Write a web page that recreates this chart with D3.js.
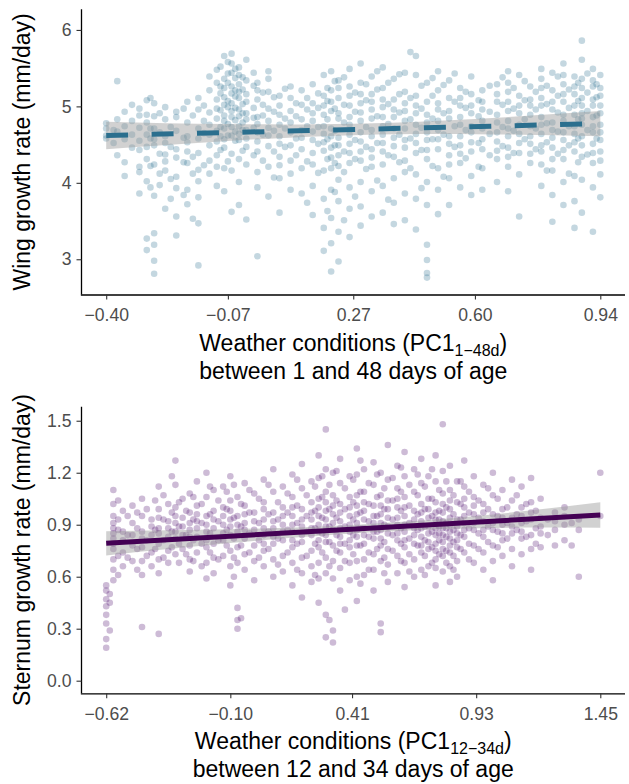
<!DOCTYPE html>
<html><head><meta charset="utf-8">
<script src="https://cdn.jsdelivr.net/npm/d3@7"></script>
<style>
body{margin:0;background:#fff}
svg{display:block}
text{font-family:"Liberation Sans",Arial,Helvetica,sans-serif}
</style>
</head><body>
<svg id="chart" width="629" height="784"></svg>
<script>
// ---------- Wing panel (top) ----------
const wingX = [-0.40,-0.38,-0.37,-0.35,-0.33,-0.31,-0.29,-0.28,-0.27,-0.255,-0.24,-0.225,-0.21,-0.19,-0.18,-0.165,-0.15,-0.135,-0.12,-0.10,-0.09,-0.08,-0.07,-0.06,-0.05,-0.04,-0.03,-0.02,0.00,0.01,0.025,0.04,0.055,0.07,0.085,0.10,0.115,0.13,0.145,0.16,0.175,0.19,0.20,0.21,0.22,0.23,0.245,0.26,0.275,0.29,0.305,0.32,0.335,0.35,0.365,0.38,0.395,0.41,0.425,0.44,0.455,0.47,0.485,0.50,0.515,0.53,0.545,0.56,0.575,0.59,0.61,0.62,0.64,0.66,0.675,0.69,0.705,0.72,0.735,0.75,0.765,0.78,0.795,0.81,0.825,0.84,0.855,0.87,0.88,0.89,0.905,0.92,0.93,0.94];
const wingY = [
 [4.62,4.78,4.58,4.71],
 [4.69,4.52],
 [5.33,4.36,4.83,4.67],
 [4.57,4.93,4.27,4.74,4.09],
 [4.46,4.81,4.63,5.02],
 [4.14,4.88,4.43,4.97,4.21,4.72,3.86,4.55],
 [5.08,4.89,4.31,3.27,3.12,4.63,4.79,4.02,4.47],
 [4.58,4.22,3.94,4.71,5.11],
 [3.83,3.34,4.49,4.87,5.04,2.81,2.98,4.24,4.71,3.19,4.57],
 [4.38,4.66,3.97,4.91,4.12],
 [4.16,4.52,4.83,4.99,3.66,4.37,4.61,4.28],
 [4.73,4.05,4.47,3.79],
 [3.56,3.31,4.33,4.93,4.68,4.44,4.08,4.86,3.93],
 [4.27,4.59,3.84,4.97],
 [4.61,5.06,4.79,4.26,3.91,4.53,3.72,4.41],
 [4.88,4.34,4.12,3.53],
 [4.96,4.71,4.39,4.17,5.11,3.47,4.02,3.81,2.92,4.58],
 [4.65,5.01,4.23,4.81],
 [5.21,5.39,4.92,4.63,4.29,4.76,4.12,4.49],
 [5.09,5.31,4.84,4.54,4.68,3.96,4.36,5.48,4.97,4.21],
 [5.52,5.17,4.73,4.43,4.95,5.26,4.61],
 [5.66,5.36,5.12,4.88,4.71,4.46,4.19,5.02,5.24,4.81,3.89,4.57],
 [5.43,5.58,4.99,4.62,5.31,4.77,4.28,5.07],
 [5.69,5.44,5.26,5.04,4.86,4.62,4.38,4.16,5.56,4.94,5.17,3.62,4.73],
 [5.13,5.37,4.82,4.55,5.49,4.98,4.67,5.21],
 [5.51,5.29,5.11,4.96,4.74,4.56,4.31,4.01,5.19,5.41,4.64,3.71,4.87],
 [5.22,4.91,5.38,4.69,4.42,5.03,4.79],
 [5.61,5.34,5.16,4.91,4.69,4.47,4.24,5.06,3.52,4.83,4.58],
 [5.27,4.98,4.72,5.44,4.36,4.85],
 [5.31,5.09,4.86,4.66,4.41,4.14,3.94,5.21,4.54,3.04,4.77],
 [5.02,4.63,5.18,4.29,4.88],
 [5.46,5.19,4.97,4.72,4.48,4.21,5.36,4.81,3.82,4.62],
 [4.93,4.41,5.12,4.68,4.07],
 [5.14,4.89,4.61,4.34,4.06,5.01,4.76,3.61,4.51,4.23],
 [4.84,5.23,4.47,4.71],
 [5.26,4.94,4.66,4.29,3.91,4.79,4.49,5.11,4.12],
 [4.58,5.04,4.36,4.87],
 [5.02,4.69,4.44,4.19,3.86,4.59,5.21,4.83],
 [4.74,5.11,4.28,3.74,4.96],
 [5.29,5.04,4.81,4.56,4.24,3.96,3.58,4.91,4.39,4.67],
 [4.98,4.51,5.17,4.73,4.13],
 [5.41,5.14,4.89,4.64,4.42,4.16,3.79,3.41,5.01,4.74,3.11,4.53],
 [5.07,4.57,4.83,4.31,3.63,5.24],
 [5.46,5.21,4.94,4.71,4.46,4.19,3.91,3.54,3.21,2.84,4.61,5.06,4.33],
 [4.97,4.68,4.26,3.88,5.33,4.49],
 [5.34,5.11,4.84,4.59,4.36,4.04,3.76,3.36,2.97,4.91,4.49,4.22,5.24],
 [4.79,5.02,4.41,4.14,3.51,5.38],
 [5.49,5.26,5.01,4.76,4.51,4.26,3.94,3.66,3.29,4.86,5.14,4.39,4.63],
 [4.93,4.56,5.18,4.31,3.82],
 [5.56,5.31,5.04,4.81,4.54,4.29,4.01,3.69,4.92,4.66,5.16,3.44,4.41],
 [5.08,4.73,4.47,4.18,5.29],
 [5.39,5.16,4.96,4.69,4.44,4.21,3.89,3.56,5.06,4.61,4.84,4.33],
 [4.87,5.22,4.52,4.03,5.46],
 [5.51,5.24,4.99,4.74,4.52,4.24,3.96,3.61,5.09,4.86,4.41,4.63],
 [5.03,4.77,4.36,5.31,3.78],
 [5.36,5.09,4.86,4.59,4.34,4.06,3.74,4.96,4.71,3.46,4.48],
 [4.92,5.16,4.63,4.27,5.42],
 [5.44,5.19,4.94,4.71,4.46,4.14,3.86,3.51,5.04,4.81,4.56,4.29],
 [5.71,5.11,4.83,4.58,4.19],
 [5.66,5.41,5.14,4.91,4.64,4.39,4.11,3.79,3.39,5.01,4.76,4.52],
 [4.97,4.72,5.27,4.43,3.93],
 [5.31,5.06,4.79,4.56,4.31,4.01,3.71,3.19,2.82,2.99,2.76,4.89,4.66,4.43],
 [5.14,4.84,4.57,4.22,5.37],
 [5.46,5.21,4.96,4.69,4.44,4.19,3.91,3.59,5.04,4.81,4.57],
 [4.91,5.28,4.63,4.08],
 [5.34,5.11,4.84,4.61,4.36,4.06,3.71,4.94,4.51,4.24],
 [5.06,4.74,4.47,5.43],
 [5.24,5.01,4.76,4.49,4.26,3.94,4.86,4.61,5.11,4.38],
 [4.98,4.69,5.19,4.32],
 [5.39,5.16,4.91,4.66,4.41,4.09,3.84,5.01,4.74,4.53],
 [4.87,5.08,4.52,4.21],
 [5.21,4.96,4.71,4.44,4.19,3.91,4.81,5.06,4.57],
 [4.93,4.64,5.27,4.36],
 [5.29,5.06,4.79,4.54,4.31,4.01,4.89,5.16,4.66,4.42],
 [5.02,4.73,5.38,4.48],
 [5.46,5.19,4.94,4.71,4.46,4.21,3.89,5.06,4.81,5.31,4.61,4.34],
 [4.97,4.68,5.24,4.39],
 [5.41,5.14,4.91,4.64,4.39,4.11,3.56,5.01,4.76,4.52],
 [5.08,4.83,4.57,5.33],
 [5.26,5.01,4.74,4.51,4.26,4.89,5.09,4.61,4.38],
 [4.96,4.71,5.19,4.44],
 [5.49,5.24,5.01,4.76,4.49,4.24,3.96,5.11,4.86,5.36,4.64,4.41],
 [5.03,4.78,4.53,5.27,4.16],
 [5.44,5.21,4.96,4.69,4.46,4.16,3.84,3.49,5.06,4.79,4.59,4.31],
 [4.92,5.14,4.67,4.38,5.39],
 [5.56,5.29,5.06,4.81,4.56,4.31,4.01,3.71,5.16,4.89,4.66,5.41,4.43],
 [4.98,4.74,5.22,4.49,4.12],
 [5.39,5.16,4.89,4.64,4.41,4.09,3.76,3.41,5.01,4.74,5.26,4.53],
 [5.07,4.83,4.58,5.31,4.27],
 [5.86,5.61,5.36,5.11,4.84,4.61,4.34,4.04,3.61,5.01,4.76,5.24,4.49,4.91],
 [5.18,4.94,4.69,5.43,4.37],
 [5.49,5.26,5.01,4.74,4.51,4.26,3.94,3.36,5.09,4.86,4.66,5.34,4.39],
 [5.12,4.88,4.58,5.29],
 [5.41,5.14,4.91,4.66,4.41,4.11,3.81,5.01,4.76,4.56,5.24,4.29]
];
const wingTicksX = [-0.40,-0.07,0.27,0.60,0.94];
const wingTicksY = [3,4,5,6];
const wingDomainY = [2.539,6.27];
const wingFitX = [-0.40,0.94];
const wingFitY = [4.62,4.775];
const wingBandX = [-0.40,-0.07,0.27,0.60,0.94];
const wingBandHalf = [0.18,0.11,0.075,0.10,0.165];

// ---------- Sternum panel (bottom) ----------
const sternX = [-0.62,-0.59,-0.55,-0.51,-0.47,-0.43,-0.40,-0.36,-0.33,-0.30,-0.27,-0.24,-0.20,-0.17,-0.13,-0.10,-0.07,-0.04,0.00,0.04,0.08,0.12,0.16,0.20,0.24,0.27,0.30,0.33,0.36,0.40,0.43,0.46,0.50,0.53,0.56,0.60,0.63,0.67,0.70,0.73,0.76,0.79,0.82,0.85,0.88,0.92,0.96,1.00,1.04,1.08,1.12,1.16,1.20,1.26,1.30,1.36,1.45,
 -0.605,-0.57,-0.53,-0.49,-0.45,-0.415,-0.38,-0.345,-0.315,-0.285,-0.255,-0.22,-0.185,-0.15,-0.115,-0.085,-0.055,-0.02,0.02,0.06,0.10,0.14,0.18,0.22,0.255,0.285,0.315,0.345,0.38,0.415,0.445,0.48,0.515,0.545,0.58,0.615,0.65,0.685,0.715,0.745,0.775,0.805,0.835,0.865,0.90,0.94,0.98,1.02,1.06,1.10,1.14,1.18,1.23,1.33];
const sternY = [
 [0.52,0.47,0.43,0.38,0.33,0.24,0.19,0.55],
 [1.10,1.02,0.95,0.88,0.82,0.76,0.70,0.64,0.58,0.91,0.79,0.85],
 [0.98,0.86,0.74,0.66,0.81],
 [0.91,0.78,0.69,0.84,1.01],
 [1.05,0.95,0.86,0.77,0.69,0.61,0.31,0.82],
 [0.93,0.84,0.74,0.66,0.89],
 [1.12,0.99,0.88,0.79,0.70,0.62,0.27,0.85,0.94],
 [1.02,0.92,0.83,0.75,0.68,0.88],
 [1.27,1.13,1.00,0.91,0.82,0.73,0.86,0.95],
 [1.05,0.94,0.84,0.76,0.89],
 [1.08,0.97,0.87,0.78,0.70,0.63,0.91,0.83],
 [1.15,1.01,0.92,0.83,0.74,0.88,0.96],
 [1.20,1.06,0.95,0.86,0.77,0.68,0.59,0.90,0.81],
 [1.10,0.98,0.88,0.79,0.71,0.62,0.93],
 [1.12,1.00,0.90,0.81,0.72,0.85,0.95],
 [1.18,1.04,0.93,0.84,0.75,0.66,0.55,0.89,0.98],
 [1.06,0.95,0.86,0.77,0.68,0.42,0.35,0.30,0.90],
 [1.14,1.01,0.91,0.82,0.73,0.64,0.87,0.96],
 [1.08,0.97,0.87,0.78,0.69,0.58,0.92],
 [1.16,1.03,0.93,0.84,0.75,0.66,0.88,0.99,0.79],
 [1.22,1.09,0.97,0.88,0.79,0.70,0.60,0.92,0.83],
 [1.12,1.00,0.90,0.81,0.72,0.63,0.86,0.95],
 [1.19,1.06,0.95,0.86,0.77,0.68,0.55,0.90,0.81,1.00],
 [1.25,1.11,0.99,0.89,0.80,0.71,0.62,0.48,0.93,0.84],
 [1.15,1.03,0.93,0.84,0.75,0.66,0.57,0.88,0.97],
 [1.30,1.17,1.05,0.95,0.86,0.77,0.68,0.59,0.45,0.90,1.00,0.81],
 [1.45,1.22,1.09,0.98,0.89,0.80,0.71,0.62,0.38,0.25,0.93,0.84,1.03],
 [1.20,1.07,0.96,0.87,0.78,0.69,0.59,0.29,0.22,0.91,1.01],
 [1.28,1.14,1.02,0.92,0.83,0.74,0.65,0.52,0.88,0.97,0.79],
 [1.18,1.06,0.95,0.86,0.77,0.68,0.58,0.90,0.81,1.00],
 [1.34,1.19,1.07,0.96,0.87,0.78,0.69,0.60,0.46,0.91,1.01,0.83],
 [1.22,1.09,0.98,0.88,0.79,0.70,0.61,0.93,0.84,1.03],
 [1.26,1.13,1.01,0.91,0.82,0.73,0.64,0.52,0.95,0.86],
 [1.20,1.07,0.96,0.87,0.78,0.69,0.33,0.28,0.91,1.01,0.82],
 [1.36,1.16,1.04,0.94,0.85,0.76,0.67,0.57,0.89,0.99],
 [1.24,1.11,1.00,0.90,0.81,0.72,0.62,0.94,0.85,1.05],
 [1.32,1.18,1.06,0.95,0.86,0.77,0.68,0.54,0.90,1.00,0.81],
 [1.22,1.09,0.98,0.88,0.79,0.70,0.60,0.93,0.84],
 [1.28,1.14,1.02,0.92,0.83,0.74,0.64,0.97,0.88,0.78],
 [1.18,1.05,0.94,0.85,0.76,0.66,0.89,0.99,0.80],
 [1.30,1.15,1.03,0.93,0.84,0.75,0.65,0.55,0.88,0.97,0.79,0.70],
 [1.48,1.21,1.08,0.97,0.88,0.80,0.72,0.63,0.92,0.84,1.02,0.76],
 [1.24,1.10,0.99,0.90,0.82,0.74,0.66,0.57,0.94,0.86,0.78,1.04],
 [1.15,1.03,0.93,0.85,0.77,0.69,0.60,0.89,0.81],
 [1.27,1.12,1.00,0.91,0.83,0.74,0.95,0.87,1.05],
 [1.18,1.06,0.96,0.87,0.78,0.68,0.91,1.01],
 [1.13,1.02,0.92,0.83,0.74,0.64,0.87,0.97],
 [1.20,1.07,0.96,0.87,0.78,0.69,0.58,0.91],
 [1.10,0.99,0.90,0.81,0.72,0.94,0.85],
 [1.16,1.04,0.94,0.85,0.76,0.66,0.89],
 [1.12,1.00,0.91,0.82,0.73,0.95,0.86],
 [1.17,1.03,0.93,0.84,0.76,0.64,0.97],
 [1.05,0.94,0.85,0.77,0.89],
 [0.97,0.87,0.78,0.92],
 [1.00,0.90,0.81,0.95],
 [0.93,0.87,0.60],
 [1.20,0.95],
 [0.45,0.29,0.50],
 [0.93,0.72,0.87,0.61,1.04],
 [0.84,0.95,0.71],
 [0.76,0.88,0.97,0.64],
 [0.81,0.99,0.72],
 [0.87,0.76,1.04],
 [0.93,0.81,0.71,1.07],
 [0.97,0.86,0.77,1.18],
 [0.89,1.03,0.79,0.68],
 [0.98,0.84,0.73],
 [0.93,1.06,0.81,0.69],
 [1.02,0.91,0.79,0.66],
 [0.96,0.85,1.12,0.74],
 [1.04,0.92,0.81,0.70],
 [0.99,0.87,0.78,1.09],
 [0.94,0.82,0.71,1.13,0.60],
 [1.02,0.89,0.78,0.36],
 [0.97,0.85,0.74,1.10],
 [1.05,0.91,0.81,0.71],
 [0.96,0.86,0.76,1.13],
 [1.03,0.93,0.82,0.67],
 [1.08,0.97,0.87,0.74],
 [1.01,0.91,0.79,1.16,0.64],
 [1.07,0.95,0.86,0.72],
 [1.12,0.98,0.88,0.79,0.61],
 [1.06,0.94,0.85,0.74,1.18],
 [1.13,0.99,0.89,0.80,0.66,0.35],
 [1.04,0.94,0.84,0.75,1.21],
 [1.11,0.99,0.89,0.79,0.69,0.41],
 [1.16,1.03,0.93,0.84,0.73],
 [1.09,0.97,0.88,0.78,1.27,0.56],
 [1.14,1.02,0.92,0.83,0.74,0.64],
 [1.06,0.95,0.86,0.76,1.19],
 [1.11,0.99,0.90,0.80,0.71,0.62],
 [1.17,1.04,0.93,0.84,0.75],
 [1.09,0.98,0.88,0.79,0.69,1.23],
 [1.13,1.01,0.91,0.82,0.73,0.63],
 [1.07,0.96,0.87,0.78,1.19],
 [1.12,0.99,0.89,0.81,0.72,0.61],
 [1.05,0.95,0.86,0.77,0.68,1.22],
 [1.10,0.98,0.89,0.81,0.73,0.85,0.93],
 [1.15,1.00,0.91,0.83,0.75,0.88,0.68],
 [1.07,0.96,0.87,0.80,0.72,0.64],
 [1.02,0.93,0.84,0.76,1.15],
 [1.09,0.97,0.88,0.79,0.70],
 [1.04,0.94,0.85,0.76],
 [1.11,0.99,0.89,0.80],
 [1.05,0.95,0.86,0.77],
 [1.00,0.91,0.82],
 [1.07,0.96,0.87],
 [1.02,0.92,0.83],
 [0.98,0.88,0.79],
 [0.93,0.84],
 [0.91,0.78]
];
const sternTicksX = [-0.62,-0.10,0.41,0.93,1.45];
const sternTicksY = [0.0,0.3,0.6,0.9,1.2,1.5];
const sternDomainY = [-0.0727,1.581];
const sternFitX = [-0.62,1.45];
const sternFitY = [0.793,0.956];
const sternBandX = [-0.62,-0.10,0.41,0.93,1.45];
const sternBandHalf = [0.07,0.04,0.025,0.035,0.074];

const svg = d3.select("#chart");

function panel(o){
  const g = svg.append("g");
  const lo = o.ticksX[0], hi = o.ticksX[o.ticksX.length-1], pad = (hi-lo)*0.05;
  const x = d3.scaleLinear().domain([lo-pad, hi+pad]).range([81.5, 625]);
  const y = d3.scaleLinear().domain(o.domainY).range([o.bottom, o.top]);

  const pts = [];
  o.xs.forEach((xv,i)=>o.ys[i].forEach(yv=>pts.push([xv,yv])));
  g.append("g").selectAll("circle").data(pts).join("circle")
    .attr("cx",d=>x(d[0])).attr("cy",d=>y(d[1])).attr("r",3.3)
    .attr("fill",o.pointColor).attr("fill-opacity",0.28);

  const fit = d3.scaleLinear().domain(o.fitX).range(o.fitY);
  const band = o.bandX.map((bx,i)=>({x:bx, lo:fit(bx)-o.bandHalf[i], hi:fit(bx)+o.bandHalf[i]}));
  g.append("path").datum(band)
    .attr("d", d3.area().curve(d3.curveNatural).x(d=>x(d.x)).y0(d=>y(d.lo)).y1(d=>y(d.hi)))
    .attr("fill","#999999").attr("fill-opacity",0.45);

  g.append("path").datum(o.fitX.map((fx,i)=>[fx,o.fitY[i]]))
    .attr("d", d3.line().x(d=>x(d[0])).y(d=>y(d[1])))
    .attr("fill","none").attr("stroke",o.lineColor).attr("stroke-width",5)
    .attr("stroke-dasharray",o.dash||null).attr("stroke-linecap","butt");

  const ax = g.append("g").attr("transform",`translate(0,${o.bottom})`)
    .call(d3.axisBottom(x).tickValues(o.ticksX).tickFormat(d3.format(".2f")).tickSize(5).tickSizeOuter(0).tickPadding(9.5));
  const ay = g.append("g").attr("transform","translate(81.5,0)")
    .call(d3.axisLeft(y).tickValues(o.ticksY).tickFormat(o.fmtY).tickSize(5).tickSizeOuter(0).tickPadding(5));
  [ax,ay].forEach(a=>{
    a.select(".domain").attr("stroke","#000").attr("stroke-width",1.3);
    a.selectAll(".tick line").attr("stroke","#333").attr("stroke-width",1.1);
    a.selectAll(".tick text").attr("fill","#4d4d4d").style("font-size","17.6px")
      .style("font-family",'"Liberation Sans",Arial,sans-serif');
  });
  ax.select(".domain").attr("d",`M${81.5-0.65},0.5H625`);
  ay.select(".domain").attr("d",`M0,${o.top}V${o.bottom}`);

  const cx = (81.5+625)/2;
  g.append("text").attr("transform",`translate(30,${(o.top+o.bottom)/2}) rotate(-90)`)
    .attr("text-anchor","middle").style("font-size","23px").attr("fill","#000").text(o.titleY);
  const t1 = g.append("text").attr("x",cx).attr("y",o.bottom+56).attr("text-anchor","middle")
    .style("font-size","23px").attr("fill","#000");
  t1.append("tspan").text("Weather conditions (PC1");
  t1.append("tspan").attr("dy",5).style("font-size","16px").text(o.sub);
  t1.append("tspan").attr("dy",-5).text(")");
  g.append("text").attr("x",cx).attr("y",o.bottom+84).attr("text-anchor","middle")
    .style("font-size","23px").attr("fill","#000").text(o.titleX2);
}

panel({xs:wingX, ys:wingY, ticksX:wingTicksX, ticksY:wingTicksY, domainY:wingDomainY,
  fitX:wingFitX, fitY:wingFitY, bandX:wingBandX, bandHalf:wingBandHalf,
  top:9.3, bottom:294.5, pointColor:"#2b6f8e", lineColor:"#2b6f8e", dash:"22 23.4",
  fmtY:d3.format("d"), titleY:"Wing growth rate (mm/day)", sub:"1\u221248d",
  titleX2:"between 1 and 48 days of age"});

panel({xs:sternX, ys:sternY, ticksX:sternTicksX, ticksY:sternTicksY, domainY:sternDomainY,
  fitX:sternFitX, fitY:sternFitY, bandX:sternBandX, bandHalf:sternBandHalf,
  top:406.7, bottom:693.3, pointColor:"#4b0b6b", lineColor:"#440154", dash:null,
  fmtY:d3.format(".1f"), titleY:"Sternum growth rate (mm/day)", sub:"12\u221234d",
  titleX2:"between 12 and 34 days of age"});
</script>
</body></html>
